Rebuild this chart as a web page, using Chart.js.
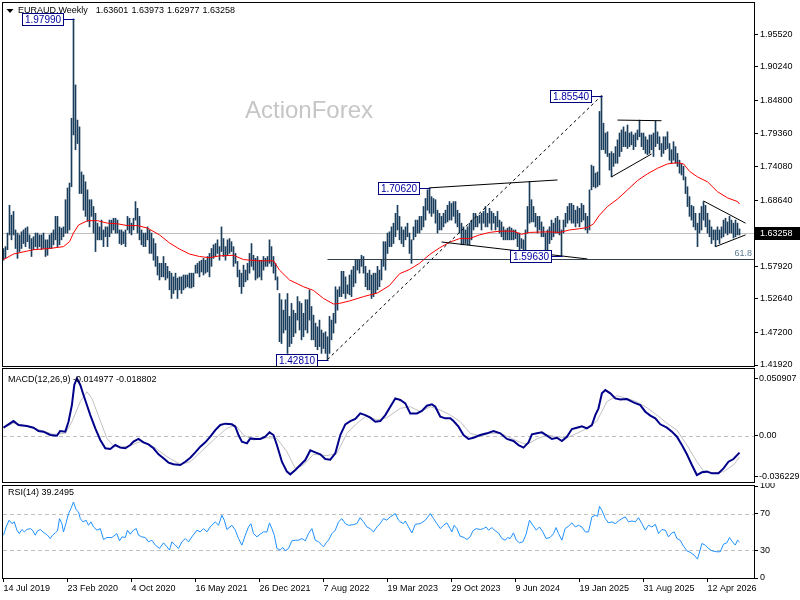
<!DOCTYPE html>
<html><head><meta charset="utf-8">
<script src="https://cdn.jsdelivr.net/npm/chart.js@4.4.1/dist/chart.umd.min.js"></script>
<style>
html,body{margin:0;padding:0;background:#fff;}
body{width:800px;height:600px;position:relative;overflow:hidden;}
canvas{position:absolute;left:0;}
</style></head><body>
<canvas id="cMain" width="800" height="368" style="top:0;width:800px;height:368px"></canvas>
<canvas id="cMacd" width="800" height="116" style="top:368px;width:800px;height:116px"></canvas>
<canvas id="cRsi" width="800" height="117" style="top:483px;width:800px;height:117px"></canvas>
<script>
// ---------------- DATA ----------------
const symbolTitle = 'EURAUD.Weekly';
const ohlcLast = [1.63601, 1.63973, 1.62977, 1.63258];
const lastPrice = 1.63258;
const dateLabels = ['14 Jul 2019','23 Feb 2020','4 Oct 2020','16 May 2021','26 Dec 2021','7 Aug 2022','19 Mar 2023','29 Oct 2023','9 Jun 2024','19 Jan 2025','31 Aug 2025','12 Apr 2026'];
const dateTickIdx = [0,32,64,96,128,160,192,224,256,288,320,352];
const priceTicks = [1.9552,1.9024,1.848,1.7936,1.7408,1.6864,1.5792,1.5264,1.472,1.4192];
const macdTicks = [0.050907, 0, -0.036229];
const rsiTicks = [100, 70, 30, 0];
const rsiLevels = [70, 30];

// weekly highs / lows (bar index 0 = week of 14 Jul 2019)
const hi = [
1.608,1.611,1.633,1.678,1.662,1.668,1.638,1.633,1.630,1.635,
1.638,1.641,1.643,1.630,1.624,1.627,1.633,1.633,1.630,1.630,
1.633,1.622,1.622,1.630,1.633,1.638,1.660,1.660,1.643,1.641,
1.643,1.687,1.706,1.714,1.819,1.9799,1.873,1.816,1.805,1.732,
1.727,1.716,1.703,1.687,1.687,1.676,1.665,1.649,1.643,1.654,
1.638,1.643,1.643,1.654,1.654,1.657,1.657,1.654,1.638,1.638,
1.635,1.638,1.660,1.657,1.649,1.657,1.684,1.673,1.660,1.638,
1.633,1.633,1.643,1.638,1.633,1.624,1.616,1.595,1.584,1.584,
1.595,1.584,1.579,1.571,1.568,1.562,1.568,1.560,1.562,1.562,
1.565,1.565,1.565,1.568,1.568,1.568,1.581,1.584,1.587,1.589,
1.592,1.589,1.595,1.600,1.608,1.614,1.616,1.622,1.611,1.643,
1.624,1.611,1.622,1.624,1.619,1.611,1.600,1.587,1.573,1.568,
1.581,1.573,1.584,1.600,1.616,1.597,1.592,1.595,1.589,1.589,
1.595,1.592,1.595,1.622,1.611,1.595,1.584,1.562,1.535,1.525,
1.508,1.525,1.535,1.498,1.519,1.508,1.503,1.530,1.522,1.519,
1.503,1.525,1.525,1.541,1.514,1.500,1.487,1.481,1.492,1.476,
1.471,1.473,1.465,1.498,1.492,1.503,1.546,1.541,1.546,1.571,
1.571,1.562,1.549,1.565,1.573,1.579,1.589,1.589,1.589,1.597,
1.595,1.579,1.568,1.573,1.565,1.568,1.568,1.579,1.573,1.589,
1.619,1.619,1.633,1.635,1.643,1.649,1.665,1.678,1.660,1.643,
1.638,1.643,1.649,1.633,1.622,1.643,1.654,1.654,1.660,1.660,
1.676,1.689,1.703,1.7062,1.692,1.689,1.687,1.670,1.665,1.660,
1.665,1.670,1.678,1.684,1.681,1.684,1.684,1.670,1.665,1.649,
1.643,1.638,1.643,1.649,1.654,1.665,1.665,1.660,1.662,1.665,
1.668,1.676,1.665,1.673,1.668,1.665,1.660,1.668,1.654,1.651,
1.643,1.638,1.641,1.643,1.641,1.638,1.638,1.633,1.633,1.624,
1.622,1.638,1.676,1.716,1.687,1.676,1.665,1.660,1.660,1.651,
1.643,1.633,1.638,1.643,1.654,1.649,1.657,1.660,1.654,1.638,
1.654,1.665,1.676,1.681,1.681,1.678,1.670,1.676,1.673,1.681,
1.678,1.665,1.660,1.703,1.743,1.741,1.730,1.732,1.830,1.8554,
1.811,1.795,1.797,1.762,1.765,1.762,1.773,1.784,1.795,1.800,
1.805,1.797,1.808,1.795,1.797,1.792,1.795,1.800,1.816,1.795,
1.795,1.789,1.784,1.792,1.792,1.795,1.814,1.797,1.789,1.778,
1.789,1.789,1.797,1.778,1.768,1.781,1.773,1.762,1.751,1.746,
1.741,1.724,1.708,1.692,1.678,1.676,1.665,1.649,1.665,1.676,
1.684,1.678,1.665,1.654,1.643,1.638,1.638,1.643,1.638,1.643,
1.654,1.657,1.651,1.660,1.654,1.649,1.654,1.649,1.6397];
const lo = [
1.589,1.592,1.606,1.630,1.622,1.630,1.608,1.592,1.603,1.608,
1.616,1.611,1.619,1.608,1.595,1.606,1.611,1.608,1.611,1.606,
1.608,1.595,1.597,1.608,1.608,1.614,1.622,1.611,1.614,1.622,
1.627,1.633,1.633,1.638,1.708,1.792,1.768,1.778,1.697,1.697,
1.670,1.660,1.652,1.643,1.660,1.633,1.603,1.622,1.622,1.622,
1.611,1.627,1.611,1.627,1.633,1.638,1.633,1.633,1.616,1.614,
1.616,1.611,1.638,1.633,1.630,1.638,1.654,1.633,1.622,1.614,
1.611,1.611,1.622,1.600,1.600,1.589,1.579,1.565,1.557,1.562,
1.562,1.557,1.560,1.541,1.527,1.535,1.541,1.527,1.541,1.535,
1.541,1.544,1.546,1.544,1.544,1.546,1.568,1.568,1.562,1.570,
1.565,1.568,1.570,1.562,1.579,1.592,1.595,1.600,1.589,1.603,
1.595,1.589,1.597,1.600,1.603,1.579,1.584,1.562,1.546,1.535,
1.546,1.554,1.557,1.568,1.579,1.573,1.557,1.560,1.562,1.557,
1.573,1.579,1.579,1.584,1.579,1.568,1.557,1.541,1.457,1.454,
1.471,1.476,1.438,1.449,1.454,1.465,1.471,1.492,1.476,1.460,
1.465,1.476,1.471,1.492,1.460,1.460,1.449,1.444,1.449,1.438,
1.446,1.438,1.4281,1.438,1.460,1.471,1.487,1.508,1.530,1.530,
1.535,1.527,1.535,1.533,1.530,1.546,1.552,1.573,1.568,1.579,
1.568,1.546,1.541,1.541,1.527,1.530,1.535,1.541,1.546,1.557,
1.579,1.573,1.600,1.611,1.611,1.616,1.627,1.638,1.622,1.616,
1.611,1.622,1.627,1.600,1.584,1.622,1.627,1.633,1.633,1.638,
1.643,1.654,1.670,1.665,1.660,1.665,1.649,1.633,1.638,1.638,
1.643,1.649,1.651,1.654,1.654,1.660,1.649,1.643,1.633,1.614,
1.614,1.616,1.614,1.614,1.622,1.638,1.643,1.643,1.649,1.638,
1.649,1.643,1.643,1.649,1.638,1.649,1.638,1.643,1.633,1.627,
1.622,1.622,1.622,1.622,1.622,1.622,1.624,1.611,1.600,1.608,
1.606,1.603,1.633,1.649,1.651,1.651,1.643,1.633,1.638,1.627,
1.627,1.600,1.597,1.616,1.622,1.627,1.633,1.633,1.630,1.5963,
1.633,1.643,1.649,1.654,1.649,1.649,1.643,1.649,1.643,1.651,
1.654,1.638,1.633,1.638,1.703,1.708,1.706,1.708,1.711,1.768,
1.768,1.762,1.757,1.735,1.724,1.741,1.746,1.746,1.757,1.765,
1.773,1.773,1.770,1.773,1.776,1.768,1.773,1.784,1.789,1.773,
1.768,1.762,1.760,1.762,1.768,1.757,1.773,1.778,1.768,1.757,
1.762,1.768,1.770,1.751,1.746,1.751,1.746,1.741,1.730,1.727,
1.719,1.697,1.676,1.660,1.654,1.643,1.638,1.611,1.633,1.638,
1.654,1.643,1.633,1.627,1.616,1.622,1.611,1.622,1.616,1.625,
1.627,1.633,1.630,1.633,1.633,1.625,1.627,1.630,1.6298];

// moving average (red), read at bar indices
const maX = [0,5,15,23,30,33,35,37.5,42,47,52,57,62,67,72,78,83,88,93,98,103,108,115,120,127,135,138,143,150,155,160,165,168,173,180,187,193,198,203,208,213,218,223,228,233,238,243,248,255,259,263,272,278,283,288,292,295,298,302,307,312,317,322,327,332,337,340,343,347,352,357,362,367,368];
const maY = [1.590,1.599,1.606,1.608,1.611,1.619,1.633,1.646,1.653,1.653,1.649,1.648,1.645,1.645,1.641,1.630,1.617,1.607,1.599,1.595,1.593,1.596,1.597,1.590,1.588,1.588,1.573,1.557,1.546,1.540,1.527,1.518,1.519,1.523,1.530,1.536,1.548,1.567,1.574,1.584,1.598,1.609,1.618,1.624,1.624,1.630,1.634,1.636,1.636,1.631,1.634,1.635,1.634,1.638,1.640,1.642,1.648,1.662,1.676,1.688,1.703,1.718,1.729,1.738,1.745,1.747,1.745,1.733,1.724,1.716,1.700,1.690,1.684,1.680];

// MACD(12,26,9) main line
const macdX = [0,2.5,5,7.5,11.7,15,17.5,20,23.4,26.7,28.3,30.9,32.5,34.2,35.4,36.7,38.4,40,41.7,43.4,45.9,48.4,50.9,53.4,55.9,58.4,60.9,63.4,65,67.5,70,72.5,75,77.5,80,82.5,85,88.4,90.9,93.4,95.9,98.4,100.9,103.4,105.9,108.4,110.9,114.2,115.9,117.5,119.2,121.7,123.4,125.9,128.4,130.9,133,135,136.7,139.2,141.7,143.4,145.9,148.4,150.9,153.4,155.9,158.4,160.9,163.4,165.9,168.4,170.9,173.4,175.9,178.4,180.9,183.4,185.9,188.4,190.9,193.4,195.9,198.4,
200.9,203.4,206.7,209.2,211.7,214.2,215.9,218.4,220.9,223.4,225,227.5,230,232.5,235,238.4,241.7,245,248.4,251.7,255,257.5,260,262.5,264.2,266.7,269.2,271.7,274.2,276.7,279.2,281.7,284.2,286.7,289.2,291.7,294.2,295.9,297.5,299.2,300.9,303.4,305.9,308.4,311.7,315,318.4,320.9,323.4,325.9,328.4,331.7,334.2,336.7,339.2,341.7,344.2,346.7,349.2,351.7,354.2,357.5,360,362.5,365,368];
const macdY = [0.0071,0.0101,0.0130,0.0095,0.0086,0.0071,0.0042,0.0036,0.0006,0.0000,0.0042,0.0036,0.0124,0.0272,0.0450,0.0509,0.0450,0.0361,0.0272,0.0183,0.0065,-0.0038,-0.0112,-0.0118,-0.0083,-0.0106,-0.0112,-0.0083,-0.0053,-0.0029,-0.0059,-0.0077,-0.0112,-0.0165,-0.0201,-0.0239,-0.0254,-0.0260,-0.0231,-0.0195,-0.0148,-0.0097,-0.0059,-0.0009,0.0050,0.0095,0.0107,0.0101,0.0080,0.0006,-0.0053,-0.0068,-0.0024,-0.0029,-0.0029,-0.0009,0.0030,0.0006,-0.0083,-0.0231,-0.0319,-0.0343,-0.0304,-0.0260,-0.0216,-0.0130,-0.0148,-0.0165,-0.0207,-0.0213,-0.0157,0.0006,0.0101,0.0130,0.0148,0.0198,0.0183,0.0160,0.0124,0.0130,0.0183,0.0257,0.0331,0.0317,
0.0287,0.0198,0.0198,0.0219,0.0266,0.0278,0.0257,0.0169,0.0154,0.0154,0.0130,0.0080,0.0006,-0.0029,-0.0018,0.0006,0.0021,0.0042,0.0021,-0.0029,-0.0047,-0.0083,-0.0106,-0.0059,0.0012,0.0021,0.0030,0.0000,-0.0029,-0.0018,-0.0047,-0.0009,0.0059,0.0071,0.0083,0.0065,0.0095,0.0183,0.0243,0.0376,0.0405,0.0376,0.0331,0.0322,0.0325,0.0296,0.0272,0.0213,0.0178,0.0154,0.0101,0.0071,0.0036,-0.0009,-0.0083,-0.0165,-0.0260,-0.0349,-0.0325,-0.0319,-0.0334,-0.0334,-0.0290,-0.0231,-0.0207,-0.0150];
// MACD signal line
const sigX = [0,5,11.7,18.4,25,30.9,34.2,38.4,41.7,44.2,46.7,49.2,51.7,55,61.7,68.4,75,81.7,88.4,93.4,98.4,105,111.7,115.9,120,125,131.7,136.7,141.7,145.9,150,155,161.7,166.7,171.7,176.7,181.7,186.7,191.7,198.4,203.4,208.4,213.4,218.4,223.4,228.4,233.4,238.4,243.4,248.4,253.4,258.4,261.7,266.7,271.7,276.7,281.7,286.7,291.7,296.7,301.7,306.7,311.7,316.7,321.7,326.7,331.7,336.7,341.7,346.7,350,355,360,365,368];
const sigY = [0.0071,0.0110,0.0086,0.0050,0.0012,0.0021,0.0124,0.0302,0.0390,0.0331,0.0213,0.0095,-0.0024,-0.0092,-0.0097,-0.0053,-0.0097,-0.0186,-0.0254,-0.0231,-0.0148,-0.0038,0.0065,0.0095,0.0006,-0.0038,-0.0018,-0.0024,-0.0142,-0.0290,-0.0260,-0.0165,-0.0177,-0.0157,0.0021,0.0110,0.0178,0.0139,0.0160,0.0243,0.0257,0.0213,0.0257,0.0228,0.0183,0.0124,0.0021,-0.0003,0.0021,0.0021,-0.0018,-0.0059,-0.0077,-0.0029,0.0006,-0.0009,-0.0018,0.0021,0.0065,0.0130,0.0302,0.0355,0.0331,0.0302,0.0248,0.0183,0.0110,0.0050,-0.0083,-0.0231,-0.0313,-0.0334,-0.0319,-0.0260,-0.0188];

// RSI(14)
const rsiX = [0,1.3,2.8,4.2,5.4,6.7,7.9,9.2,10.4,11.7,13.4,14.5,15.9,17,18.4,19.7,20.9,22,23.4,24.5,25.9,27,28,29.2,30,31.2,32.5,33.7,35,36.3,37.5,38.4,39.7,41.3,42.5,43.7,45,46.7,48.4,50,51.7,54.2,56.7,58,59.2,60.9,62,63.3,65,66.4,67.5,69.2,70.9,72.5,74.2,75.9,78,80,81.7,83,84.2,85.9,87.5,89.2,90.9,92.5,94.2,96.7,98.4,100,101.7,103.3,105.9,107.5,109.2,110.4,111.7,114.2,115.9,117.5,119.2,120.9,122.5,123.7,125,126.7,128.3,130,131.7,133,134.2,135.4,136.7,138.3,139.7,140.9,142.5,144.2,145.9,147.5,149.2,150.9,152.5,154.2,155.9,157.5,158.7,160,161.3,162.5,164.2,165.9,167.5,169.2,170.9,172.5,175,176.7,178.3,180,181.7,183.3,185,186.7,188.3,190,191.7,193.3,195.9,197.5,
198.4,200,200.9,202.5,204.2,205.9,208.4,210.9,213.4,215,216.7,218.4,220,221.7,223.3,224.2,225.3,226.7,228.3,230.3,231.7,233.3,234.7,236.3,238.4,240,241.3,242.5,244.2,245.9,247.5,249.2,250.9,252,253.3,255,256.4,258,259.7,261.3,263,264.7,266.4,268,269.7,271.3,273.3,275,276.3,277.5,279.2,280.8,282.5,284.2,285.9,287.5,289.2,290.9,292.5,294.2,295.9,297,298,299.2,300.9,302.5,304.2,305.9,307.5,309.2,310.9,312.5,314.2,315.9,317.5,319.2,320.9,322.5,324.2,325.9,327.5,329.2,330.9,332.5,334.2,335.4,336.7,338.3,340,341.7,343.7,345.3,347,348.3,349.2,350.9,352.5,354.2,356.7,358.4,360,361.7,363,364.5,365.9,367,368];
const rsiY = [46.5,55.5,62.8,59.1,61,52,48.3,52.7,50.1,52.7,53.7,52,46.5,51.2,52.7,50.1,48.3,46.5,42.9,46.5,49,51.2,64.6,59.1,50.1,59.1,70,75.4,82.6,74.3,71.8,64.6,61,62.8,57.3,61,55.5,52,53.7,41.8,44,44,48.3,40.4,44.7,44,52,47.6,52,53.7,46.5,44.7,44,39.3,41.1,35.7,32.1,38.2,33.9,30.3,39.3,35.7,32.1,39.3,42.9,39.3,44.7,52,50.1,53.7,50.1,55.5,61,57.3,68.2,62.8,52.7,57.3,52,42.9,35.7,46.5,55.5,59.1,48.3,44.7,47.6,50.1,50.1,59.9,53.7,46.5,32.1,30.3,33.2,29.6,32.1,40.4,41.1,41.1,42.9,40.4,48.3,53.7,41.1,39.3,36.8,33.9,38.2,41.1,48.3,52,61,64.6,59.1,57.3,58,59.1,65.6,61,55.5,53.7,50.1,55.5,59.1,64.6,62.8,66.4,70,62.8,
61,59.1,62,55.5,49,58.4,59.1,62.8,70,64.6,59.1,53.7,57.3,59.9,53.7,50.1,57.3,53.7,45.5,44,41.8,44.7,51.2,53.7,52.7,53.7,55.5,52,54.8,51.2,49,42.9,41.1,44,42.9,49,41.1,38.2,39.3,47.6,62.8,57.3,52,55.5,50.1,42.9,44,48.3,54.8,48.3,41.1,53.7,56.3,59.9,55.5,57.3,55.5,50.1,50.1,66.4,68.2,67.1,77.9,73.6,64.6,59.9,61,59.1,62,64.6,66.4,61,62,61,65.6,59.1,52,57.3,55.5,58.4,48.3,52.7,52,44.7,49,50.1,42.9,41.1,34.6,29.6,27.4,24.9,20.6,30.3,37.5,35.7,32.1,29.6,28.5,28.5,36.8,38.2,44,39.3,35.7,41.1,39.2495];
const macdLast = [-0.014977, -0.018802];

// drawn objects (bar index, price)
const peakIdx = [35, 162, 213, 279, 299];
const peakSide = ['hi', 'lo', 'hi', 'lo', 'hi'];
const trendLines = [[213,1.7062,277,1.719],[219,1.6185,292,1.591],[307,1.816,329,1.815],[304,1.724,324,1.761],[350,1.685,371,1.649],[356,1.611,371,1.630]];
const dashTrend = [162, 1.4281, 299, 1.8554];
const fibStart = 162, fibPrice = 1.5913, fibLabel = '61.8';

// ---------------- CHARTS ----------------
const FONT = "'Liberation Sans', Arial, sans-serif";
Chart.defaults.font.family = FONT;
Chart.defaults.font.size = 9;
Chart.defaults.color = '#000';
const X_MIN = -0.25, X_MAX = 375.25;
const BAR_COLOR = '#1a3d5c';

function hiddenX(){ return {type:'linear', min:X_MIN, max:X_MAX, offset:false, display:false}; }
function fitY(s){ s.width = 46; s.paddingTop = 0; s.paddingBottom = 0; }
function frame(chart){
  const {ctx, chartArea:a} = chart;
  ctx.save(); ctx.strokeStyle = '#000'; ctx.lineWidth = 1;
  ctx.strokeRect(Math.round(a.left)-0.5, Math.round(a.top)-0.5, Math.round(a.right)-Math.round(a.left)+1, Math.round(a.bottom)-Math.round(a.top)+1);
  ctx.restore();
}
function pts(xs, ys){ return xs.map((x,k)=>({x:x, y:ys[k]})); }
const commonOpts = {responsive:false, animation:false, events:[], plugins:{legend:{display:false}, tooltip:{enabled:false}}};

const mainDeco = {
  id:'mainDeco',
  beforeDatasetsDraw(chart){
    const {ctx, chartArea:a, scales:{y}} = chart;
    ctx.save();
    ctx.font = "24px 'Liberation Sans', Arial, sans-serif";
    ctx.fillStyle = '#c6c6c6'; ctx.textAlign = 'left'; ctx.textBaseline = 'alphabetic';
    ctx.fillText('ActionForex', 245, 118);
    const yp = Math.round(y.getPixelForValue(lastPrice)) + 0.5;
    ctx.strokeStyle = '#c0c0c0'; ctx.lineWidth = 1;
    ctx.beginPath(); ctx.moveTo(a.left, yp); ctx.lineTo(a.right, yp); ctx.stroke();
    ctx.restore();
  },
  afterDraw(chart){
    const {ctx, chartArea:a, scales:{x, y}} = chart;
    const X = v => x.getPixelForValue(v), Y = v => y.getPixelForValue(v);
    ctx.save();
    ctx.beginPath(); ctx.rect(a.left, a.top, a.right-a.left, a.bottom-a.top); ctx.clip();
    ctx.lineWidth = 1; ctx.strokeStyle = '#000';
    trendLines.forEach(t => { ctx.beginPath(); ctx.moveTo(X(t[0]), Y(t[1])); ctx.lineTo(X(t[2]), Y(t[3])); ctx.stroke(); });
    ctx.setLineDash([3,3]);
    ctx.beginPath(); ctx.moveTo(X(dashTrend[0]), Y(dashTrend[1])); ctx.lineTo(X(dashTrend[2]), Y(dashTrend[3])); ctx.stroke();
    ctx.setLineDash([]);
    const fy = Math.round(Y(fibPrice)) + 0.5;
    ctx.strokeStyle = '#34424e';
    ctx.beginPath(); ctx.moveTo(X(fibStart), fy); ctx.lineTo(a.right, fy); ctx.stroke();
    ctx.fillStyle = '#5c7c94'; ctx.font = '9px ' + FONT; ctx.textAlign = 'right'; ctx.textBaseline = 'bottom';
    ctx.fillText(fibLabel, a.right - 2, fy - 1);
    ctx.font = '10px ' + FONT; ctx.textAlign = 'center'; ctx.textBaseline = 'middle';
    peakIdx.forEach((i, k) => {
      const v = peakSide[k] === 'hi' ? hi[i] : lo[i];
      const px = Math.round(X(i)), py = Math.round(Y(v)) + 0.5;
      const bx = px - 10 - 42;
      ctx.strokeStyle = '#000080';
      ctx.beginPath(); ctx.moveTo(bx + 42, py); ctx.lineTo(px + 0.5, py); ctx.stroke();
      ctx.fillStyle = '#fff'; ctx.fillRect(bx, py - 6, 42, 12);
      ctx.strokeRect(bx + 0.5, py - 6, 41, 12);
      ctx.fillStyle = '#0000a0'; ctx.fillText(v.toFixed(5), bx + 21, py + 0.5);
    });
    ctx.restore();
    frame(chart);
    ctx.save();
    // title
    ctx.fillStyle = '#000';
    ctx.beginPath(); ctx.moveTo(6.5, 9); ctx.lineTo(13.5, 9); ctx.lineTo(10, 13); ctx.closePath(); ctx.fill();
    ctx.font = '9px ' + FONT; ctx.textAlign = 'left'; ctx.textBaseline = 'middle';
    let tx = 18;
    ctx.fillText(symbolTitle, tx, 11);
    tx += ctx.measureText(symbolTitle).width + 8;
    ohlcLast.forEach(v => { const s = v.toFixed(5); ctx.fillText(s, tx, 11); tx += ctx.measureText(s).width + 3; });
    // current price box
    const yp = Math.round(Y(lastPrice));
    ctx.fillStyle = '#000'; ctx.fillRect(Math.round(a.right) + 1, yp - 6, 800 - a.right, 13);
    ctx.fillStyle = '#fff'; ctx.fillText(lastPrice.toFixed(5), Math.round(a.right) + 6, yp + 0.5);
    ctx.restore();
  }
};

new Chart(document.getElementById('cMain'), {
  data: {datasets: [
    {type:'line', data: pts(maX, maY), borderColor:'#ff0000', borderWidth:1, pointRadius:0, tension:0, order:1},
    {type:'bar', data: hi.map((h,i)=>({x:i, y:[lo[i], h]})), backgroundColor:BAR_COLOR, borderWidth:0, barThickness:1, grouped:false, order:2}
  ]},
  options: Object.assign({}, commonOpts, {
    layout:{padding:{left:3, top:3, right:0, bottom:2}},
    scales:{
      x: hiddenX(),
      y: {position:'right', min:1.4176, max:2.0057,
          afterBuildTicks: s => { s.ticks = priceTicks.map(v=>({value:v})); },
          afterFit: fitY,
          ticks:{autoSkip:false, padding:2, callback: v => Number(v).toFixed(5)},
          grid:{drawOnChartArea:false, drawTicks:true, tickLength:4, color:'#000'},
          border:{display:false}}
    }
  }),
  plugins:[mainDeco]
});

const macdDeco = {
  id:'macdDeco',
  beforeDatasetsDraw(chart){
    const {ctx, chartArea:a, scales:{y}} = chart;
    const zy = Math.round(y.getPixelForValue(0)) + 0.5;
    ctx.save(); ctx.strokeStyle = '#c0c0c0'; ctx.lineWidth = 1; ctx.setLineDash([4,3]);
    ctx.beginPath(); ctx.moveTo(a.left, zy); ctx.lineTo(a.right, zy); ctx.stroke(); ctx.restore();
  },
  afterDraw(chart){
    frame(chart);
    const {ctx, chartArea:a} = chart;
    ctx.save(); ctx.fillStyle = '#000'; ctx.font = '9px ' + FONT; ctx.textAlign = 'left'; ctx.textBaseline = 'middle';
    ctx.fillText('MACD(12,26,9) ' + macdLast[0].toFixed(6) + ' ' + macdLast[1].toFixed(6), a.left + 5, a.top + 11);
    ctx.restore();
  }
};
new Chart(document.getElementById('cMacd'), {
  data: {datasets: [
    {type:'line', data: pts(macdX, macdY), borderColor:'#00008b', borderWidth:2, pointRadius:0, tension:0, order:1},
    {type:'line', data: pts(sigX, sigY), borderColor:'#c0c0c0', borderWidth:1, pointRadius:0, tension:0, order:2}
  ]},
  options: Object.assign({}, commonOpts, {
    layout:{padding:{left:3, top:1, right:0, bottom:2}},
    scales:{
      x: hiddenX(),
      y: {position:'right', min:-0.0411, max:0.0592,
          afterBuildTicks: s => { s.ticks = macdTicks.map(v=>({value:v})); },
          afterFit: fitY,
          ticks:{autoSkip:false, padding:1, callback: v => v === 0 ? '0.00' : String(v)},
          grid:{drawOnChartArea:false, drawTicks:true, tickLength:4, color:'#000'},
          border:{display:false}}
    }
  }),
  plugins:[macdDeco]
});

const rsiDeco = {
  id:'rsiDeco',
  beforeDatasetsDraw(chart){
    const {ctx, chartArea:a, scales:{y}} = chart;
    ctx.save(); ctx.strokeStyle = '#c0c0c0'; ctx.lineWidth = 1; ctx.setLineDash([4,3]);
    rsiLevels.forEach(l => { const yy = Math.round(y.getPixelForValue(l)) + 0.5; ctx.beginPath(); ctx.moveTo(a.left, yy); ctx.lineTo(a.right, yy); ctx.stroke(); });
    ctx.restore();
  },
  afterDraw(chart){
    frame(chart);
    const {ctx, chartArea:a} = chart;
    ctx.save(); ctx.fillStyle = '#000'; ctx.font = '9px ' + FONT; ctx.textAlign = 'left'; ctx.textBaseline = 'middle';
    ctx.fillText('RSI(14) ' + rsiY[rsiY.length-1].toFixed(4), a.left + 5, a.top + 7);
    ctx.restore();
  }
};
new Chart(document.getElementById('cRsi'), {
  data: {datasets: [
    {type:'line', data: pts(rsiX, rsiY), borderColor:'#1e90ff', borderWidth:1, pointRadius:0, tension:0}
  ]},
  options: Object.assign({}, commonOpts, {
    layout:{padding:{left:3, top:3, right:0, bottom:0}},
    scales:{
      x: {type:'linear', min:X_MIN, max:X_MAX, offset:false, position:'bottom',
          afterBuildTicks: s => { s.ticks = dateTickIdx.map(v=>({value:v})); },
          afterFit: s => { s.height = 22; s.paddingLeft = 0; s.paddingRight = 0; },
          ticks:{autoSkip:false, maxRotation:0, minRotation:0, align:'start', padding:1, callback:(v,i)=>dateLabels[i]},
          grid:{drawOnChartArea:false, drawTicks:true, tickLength:4, color:'#000'},
          border:{display:false}},
      y: {position:'right', min:0, max:100,
          afterBuildTicks: s => { s.ticks = rsiTicks.map(v=>({value:v})); },
          afterFit: fitY,
          ticks:{autoSkip:false, padding:2},
          grid:{drawOnChartArea:false, drawTicks:true, tickLength:4, color:'#000'},
          border:{display:false}}
    }
  }),
  plugins:[rsiDeco]
});
</script>
</body></html>
